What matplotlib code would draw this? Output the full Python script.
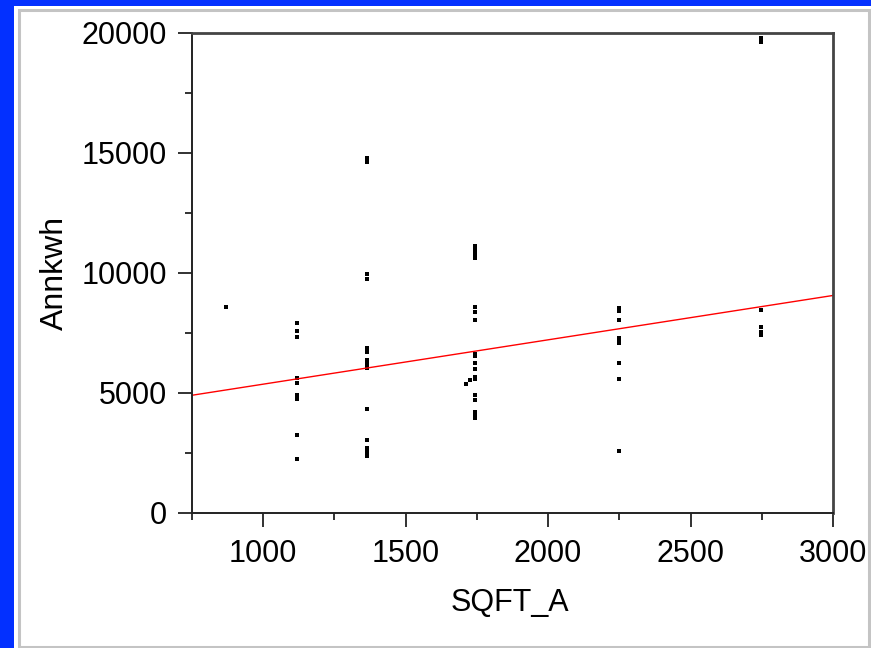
import numpy as np
import matplotlib
matplotlib.use("Agg")
import matplotlib.pyplot as plt
from matplotlib.patches import Rectangle
from matplotlib.ticker import MultipleLocator

plt.rcParams['font.family'] = ['Liberation Sans', 'DejaVu Sans']

# square footage groups and annual kWh
sqft_870 = [870]
kwh_870 = [8600]

sqft_1120 = [1120] * 9
kwh_1120 = [7930, 7600, 7350, 5630, 5400, 4900, 4740, 3270, 2270]

sqft_1365 = [1365] * 14
kwh_1365 = [14810, 14640, 9940, 9730, 6890, 6720, 6360, 6220, 6040,
            4350, 3030, 2690, 2550, 2380]

sqft_1745 = [1745] * 19 + [1725, 1712]
kwh_1745 = [11140, 11000, 10860, 10730, 10630, 8600, 8370, 8030, 6640,
            6530, 6270, 6020, 5670, 5600, 4930, 4700, 4210, 4070, 3960,
            5560, 5390]

sqft_2250 = [2248] * 9
kwh_2250 = [8550, 8410, 8030, 7290, 7190, 7080, 6270, 5600, 2590]

sqft_2750 = [2748] * 6
kwh_2750 = [19800, 19640, 8440, 7750, 7540, 7400]

# fitted line
fit_intercept = 3520
fit_slope = 1.848

x_all = np.array(sqft_870 + sqft_1120 + sqft_1365 + sqft_1745 + sqft_2250 + sqft_2750)
y_all = np.array(kwh_870 + kwh_1120 + kwh_1365 + kwh_1745 + kwh_2250 + kwh_2750)

fig = plt.figure(figsize=(8.71, 6.48), dpi=100)
fig.patch.set_facecolor('#0330FF')

W, H = 871.0, 648.0
fig.patches.append(Rectangle((14 / W, 0), 1 - 14 / W, 1 - 6 / H, transform=fig.transFigure,
                             facecolor='white', edgecolor='none', zorder=-3))
fig.patches.append(Rectangle((18.5 / W, 1.5 / H), (868.5 - 18.5) / W, (638 - 1.5) / H,
                             transform=fig.transFigure, facecolor='none',
                             edgecolor='#C4C4C4', linewidth=2.2, zorder=-2))

ax = fig.add_axes([192 / W, 1 - 513 / H, (833 - 192) / W, (513 - 33) / H])
ax.set_facecolor('white')

ax.plot(x_all, y_all, linestyle='none', marker='s', markersize=2.8,
        color='black', markeredgewidth=0)

xl = np.array([750, 3000])
ax.plot(xl, fit_intercept + fit_slope * xl, color='red', linewidth=1.0)

ax.set_xlim(750, 3000)
ax.set_ylim(0, 20000)
ax.xaxis.set_major_locator(MultipleLocator(500))
ax.xaxis.set_minor_locator(MultipleLocator(250))
ax.yaxis.set_major_locator(MultipleLocator(5000))
ax.yaxis.set_minor_locator(MultipleLocator(2500))

ax.tick_params(which='major', length=10, width=1.3, labelsize=22, pad=8, color='#222222')
ax.tick_params(which='minor', length=5, width=1.3, color='#222222')
ax.tick_params(axis='x', which='major', pad=9)

for s in ['left', 'bottom']:
    ax.spines[s].set_linewidth(1.4)
    ax.spines[s].set_color('#222222')
for s in ['top', 'right']:
    ax.spines[s].set_linewidth(2.0)
    ax.spines[s].set_color('#444444')

fig.text(55 / W, 1 - 273 / H, 'Annkwh', rotation=90, ha='center', va='center', fontsize=23)
fig.text(510 / W, 1 - 603 / H, 'SQFT_A', ha='center', va='center', fontsize=22)

fig.savefig('out.png', dpi=100, facecolor=fig.get_facecolor())
